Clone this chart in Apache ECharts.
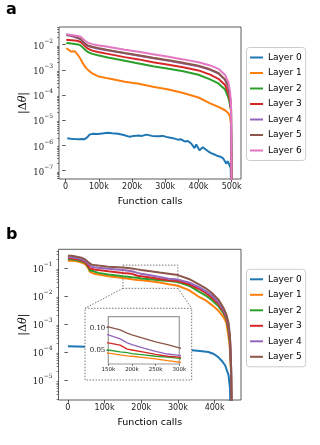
<!DOCTYPE html>
<html>
<head>
<meta charset="utf-8">
<script src="https://cdn.jsdelivr.net/npm/echarts@6/dist/echarts.min.js"></script>
<style>
html, body { margin: 0; padding: 0; background: #fff; }
#chart { width: 320px; height: 445px; }
</style>
</head>
<body>
<div id="chart"></div>
<script>
// colours of the layers (matplotlib tab10)
const layerColors = ['#1f77b4', '#ff7f0e', '#2ca02c', '#d62728', '#9467bd', '#8c564b', '#e377c2'];
const layersA = ['Layer 0', 'Layer 1', 'Layer 2', 'Layer 3', 'Layer 4', 'Layer 5', 'Layer 6'];
const layersB = ['Layer 0', 'Layer 1', 'Layer 2', 'Layer 3', 'Layer 4', 'Layer 5'];

// panel a: function calls (thousands)
const callsA = [2, 8, 17, 27, 37, 45, 52, 60, 67, 80, 97, 127, 178, 220, 263, 310, 354, 400, 435, 460, 480, 490, 495, 498, 500];
const a1 = [7.2e-3, 6.6e-3, 5.3e-3, 5.5e-3, 3.9e-3, 2.7e-3, 1.8e-3, 1.25e-3, 1.0e-3, 7.2e-4, 5.6e-4, 4.6e-4, 3.4e-4, 2.8e-4, 2.15e-4, 1.65e-4, 1.2e-4, 8.0e-5, 4.7e-5, 3.4e-5, 2.5e-5, 1.9e-5, 1.4e-5, 6.5e-6, 1e-9];
const a2 = [0.0116, 0.0113, 0.011, 0.0107, 0.0102, 0.0093, 0.0076, 0.006, 0.0051, 0.0043, 0.0038, 0.0031, 0.0023, 0.0018, 0.0014, 0.0011, 8.8e-4, 6.4e-4, 4.2e-4, 2.9e-4, 1.65e-4, 8e-5, 4e-5, 2.5e-5, 1e-9];
const a3 = [0.0158, 0.0155, 0.015, 0.0145, 0.014, 0.0128, 0.0105, 0.0082, 0.0069, 0.0058, 0.0051, 0.0043, 0.0032, 0.0026, 0.002, 0.0016, 0.00128, 9.5e-4, 6.5e-4, 4.4e-4, 2.5e-4, 1.2e-4, 5.5e-5, 2.5e-5, 1e-9];
const a4 = [0.0238, 0.0228, 0.0219, 0.02, 0.018, 0.0162, 0.0128, 0.01, 0.0088, 0.0078, 0.0069, 0.0059, 0.0045, 0.0036, 0.0029, 0.0023, 0.0018, 0.00138, 0.001, 7.1e-4, 4.0e-4, 2.0e-4, 8.5e-5, 2.8e-5, 1e-9];
const a5 = [0.025, 0.024, 0.023, 0.021, 0.019, 0.017, 0.0135, 0.0105, 0.0093, 0.0082, 0.0073, 0.0062, 0.0047, 0.0038, 0.003, 0.0024, 0.0019, 0.00145, 0.00105, 7.5e-4, 4.2e-4, 2.1e-4, 9e-5, 3e-5, 1e-9];
const a6 = [0.026, 0.025, 0.024, 0.023, 0.022, 0.0205, 0.017, 0.0135, 0.012, 0.0105, 0.0095, 0.0082, 0.0063, 0.0052, 0.0042, 0.0033, 0.0026, 0.002, 0.0015, 0.0011, 6.3e-4, 3.2e-4, 1.35e-4, 4e-5, 1e-9];
const calls0A = [5, 15, 27, 40, 50, 57, 65, 72, 82, 97, 110, 127, 140, 158, 175, 193, 205, 218, 230, 243, 260, 278, 293, 308, 323, 338, 348, 358, 368, 378, 383, 388, 393, 398, 403, 408, 413, 418, 428, 438, 448, 458, 466, 474, 480, 484, 488, 491, 494, 497, 500];
const a0 = [1.95e-6, 1.85e-6, 1.8e-6, 1.75e-6, 1.8e-6, 1.78e-6, 2.1e-6, 2.7e-6, 2.9e-6, 2.85e-6, 3.0e-6, 3.2e-6, 3.05e-6, 2.9e-6, 2.6e-6, 2.2e-6, 2.4e-6, 2.5e-6, 2.4e-6, 2.7e-6, 2.4e-6, 2.3e-6, 2.4e-6, 2.1e-6, 1.95e-6, 1.7e-6, 1.75e-6, 1.45e-6, 1.5e-6, 1.2e-6, 1.3e-6, 7.8e-7, 1.1e-6, 1.05e-6, 6.5e-7, 5.6e-7, 8.5e-7, 7.8e-7, 6.0e-7, 5.0e-7, 4.4e-7, 3.8e-7, 3.6e-7, 3.1e-7, 2.6e-7, 1.9e-7, 2.4e-7, 2.2e-7, 1.6e-7, 1.25e-7, 1e-9];

// panel b: function calls (thousands)
const callsB = [0, 10, 25, 37, 47, 55, 60, 65, 72, 83, 110, 150, 175, 190, 200, 225, 250, 275, 300, 330, 356, 375, 392, 410, 424, 432, 438, 442, 445, 447];
const b1 = [0.18, 0.18, 0.17, 0.155, 0.135, 0.1, 0.072, 0.062, 0.061, 0.058, 0.05, 0.043, 0.039, 0.037, 0.036, 0.033, 0.03, 0.026, 0.023, 0.016, 0.0095, 0.007, 0.0048, 0.003, 0.0018, 0.0011, 3.5e-4, 1.2e-4, 1.5e-5, 1e-7];
const b2 = [0.2, 0.2, 0.185, 0.17, 0.15, 0.11, 0.08, 0.07, 0.074, 0.066, 0.058, 0.05, 0.046, 0.044, 0.042, 0.039, 0.036, 0.034, 0.031, 0.023, 0.0145, 0.0105, 0.0072, 0.0044, 0.0024, 0.0015, 6e-4, 2e-4, 2e-5, 1e-7];
const b3 = [0.22, 0.22, 0.2, 0.185, 0.16, 0.12, 0.095, 0.088, 0.087, 0.083, 0.075, 0.066, 0.061, 0.052, 0.05, 0.045, 0.04, 0.036, 0.034, 0.026, 0.018, 0.013, 0.0088, 0.0052, 0.0028, 0.0017, 7.5e-4, 2.5e-4, 2.5e-5, 1e-7];
const b4 = [0.24, 0.24, 0.22, 0.2, 0.175, 0.14, 0.12, 0.11, 0.105, 0.1, 0.092, 0.084, 0.075, 0.066, 0.062, 0.054, 0.047, 0.041, 0.038, 0.03, 0.021, 0.015, 0.0105, 0.006, 0.0032, 0.0019, 9.5e-4, 3.2e-4, 3e-5, 1e-7];
const b5 = [0.27, 0.27, 0.25, 0.23, 0.2, 0.16, 0.14, 0.13, 0.125, 0.12, 0.11, 0.102, 0.095, 0.088, 0.084, 0.076, 0.068, 0.062, 0.055, 0.04, 0.026, 0.019, 0.013, 0.0075, 0.0038, 0.0022, 0.0011, 3.5e-4, 3e-5, 1e-7];
const calls0B = [0, 50, 100, 150, 200, 250, 300, 338, 360, 383, 398, 410, 420, 429, 438, 442, 444];
const b0 = [1.6e-4, 1.55e-4, 1.5e-4, 1.4e-4, 1.3e-4, 1.22e-4, 1.18e-4, 1.15e-4, 1.08e-4, 1.0e-4, 8.5e-5, 6.6e-5, 4.8e-5, 3.3e-5, 1.5e-5, 5e-6, 1e-7];

// tick labels
const ticksA = [0, 100000, 200000, 300000, 400000, 500000];
const ticksB = [0, 100000, 200000, 300000, 400000];
const decadesA = [1e-7, 1e-6, 1e-5, 1e-4, 1e-3, 1e-2];
const decadesB = [1e-5, 1e-4, 1e-3, 1e-2, 1e-1];
const ticksInsetX = [150000, 200000, 250000, 300000];
const ticksInsetY = [0.05, 0.10];

// axis ranges
const yRangeA = [Math.pow(10, -7.33), Math.pow(10, -1.3)];
const yRangeB = [Math.pow(10, -5.71), Math.pow(10, -0.34)];
const insetY = [0.0186, 0.1247];
const insetX = [150000, 300000];

const valuesA = [a0, a1, a2, a3, a4, a5, a6];
const valuesB = [b0, b1, b2, b3, b4, b5];

function pairs(calls, vals) {
    return calls.map((c, i) => [c * 1000, vals[i]]);
}

function minorTicks(range) {
    let out = [];
    for (let d = -9; d <= 1; d++) {
        for (let m = 2; m <= 9; m++) {
            let v = m * Math.pow(10, d);
            if (v > range[0] && v < range[1]) out.push(v);
        }
    }
    return out;
}

const kFormat = v => v === 0 ? '0' : (v / 1000) + 'k';
const powFormat = v => '{b|10}{s|−' + Math.round(-Math.log10(v)) + '}';
const powRich = {
    b: { fontFamily: 'DejaVu Serif', fontSize: 8.5, color: '#222', lineHeight: 13, verticalAlign: 'bottom' },
    s: { fontFamily: 'DejaVu Serif', fontSize: 6, color: '#222', lineHeight: 8, verticalAlign: 'top' }
};
const nameRich = {
    n: { fontFamily: 'DejaVu Serif', fontSize: 11, color: '#000' },
    i: { fontFamily: 'DejaVu Serif', fontSize: 11, fontStyle: 'italic', color: '#000' }
};

function mainX(gridIndex, range, ticks) {
    return {
        type: 'value', gridIndex, min: range[0], max: range[1],
        name: 'Function calls', nameLocation: 'middle', nameGap: 18,
        nameTextStyle: { fontFamily: 'DejaVu Sans', fontSize: 9.5, color: '#000' },
        axisLine: { show: false },
        splitLine: { show: false },
        axisTick: { customValues: ticks, length: 3.5, lineStyle: { color: '#333', width: 0.8 } },
        axisLabel: { customValues: ticks, formatter: kFormat, margin: 4, fontFamily: 'DejaVu Sans', fontSize: 8, color: '#222' }
    };
}

function mainY(gridIndex, range, decades) {
    return {
        type: 'log', gridIndex, min: range[0], max: range[1], position: 'left',
        name: '{n||Δ}{i|θ}{n||}', nameLocation: 'middle', nameGap: 30, nameMoveOverlap: false,
        nameTextStyle: { rich: nameRich },
        axisLine: { show: false },
        splitLine: { show: false },
        axisTick: { customValues: decades, length: 3.5, lineStyle: { color: '#333', width: 0.8 } },
        axisLabel: { customValues: decades, formatter: powFormat, rich: powRich, margin: 6 }
    };
}

function minorY(gridIndex, range) {
    return {
        type: 'log', gridIndex, min: range[0], max: range[1], position: 'left', offset: 0,
        axisLine: { show: false },
        splitLine: { show: false },
        axisLabel: { show: false },
        axisTick: { customValues: minorTicks(range), length: 2, lineStyle: { color: '#333', width: 0.6 } }
    };
}

let series = [];
valuesA.forEach((vals, i) => {
    series.push({
        name: layersA[i], type: 'line', xAxisIndex: 0, yAxisIndex: 0,
        data: pairs(i === 0 ? calls0A : callsA, vals),
        showSymbol: false, color: layerColors[i],
        lineStyle: { width: 2 }, emphasis: { disabled: true }
    });
});
valuesB.forEach((vals, i) => {
    let s = {
        name: layersB[i], type: 'line', xAxisIndex: 1, yAxisIndex: 1,
        data: pairs(i === 0 ? calls0B : callsB, vals),
        showSymbol: false, color: layerColors[i],
        lineStyle: { width: 2 }, emphasis: { disabled: true }
    };
    if (i === 0) {
        // dotted rectangle showing the zoomed region
        s.markArea = {
            silent: true,
            label: { show: false },
            itemStyle: { color: 'rgba(0,0,0,0)', borderColor: '#777', borderWidth: 1, borderType: [1.5, 1.5] },
            data: [[{ xAxis: insetX[0], yAxis: insetY[1] }, { xAxis: insetX[1], yAxis: insetY[0] }]]
        };
    }
    series.push(s);
});
// inset
valuesB.forEach((vals, i) => {
    if (i === 0) return;
    series.push({
        name: layersB[i], type: 'line', xAxisIndex: 2, yAxisIndex: 2, z: 12,
        data: pairs(callsB, vals),
        showSymbol: false, color: layerColors[i],
        lineStyle: { width: 1.3 }, emphasis: { disabled: true }
    });
});

const legendBase = {
    orient: 'vertical', left: 246.5, icon: 'rect', itemWidth: 13, itemHeight: 2,
    itemGap: 3.5, padding: [4, 4, 4, 3.5],
    backgroundColor: '#fff', borderColor: '#ccc', borderWidth: 1, borderRadius: 3,
    textStyle: { fontFamily: 'DejaVu Sans', fontSize: 9, color: '#000', lineHeight: 12 },
    selectedMode: false
};

const outerBox = { x: 85, y: 308.3, width: 106.7, height: 71.7 };

let chart = echarts.init(document.getElementById('chart'), null, { renderer: 'canvas' });
let option = {
    animation: false,
    backgroundColor: '#fff',
    title: [
        { text: 'a', left: 6, top: 2, padding: 0, textStyle: { fontFamily: 'DejaVu Sans', fontWeight: 'bold', fontSize: 16, color: '#000' } },
        { text: 'b', left: 6, top: 227, padding: 0, textStyle: { fontFamily: 'DejaVu Sans', fontWeight: 'bold', fontSize: 16, color: '#000' } }
    ],
    legend: [
        Object.assign({}, legendBase, { top: 47.5, data: layersA }),
        Object.assign({}, legendBase, { top: 269.3, data: layersB })
    ],
    grid: [
        { left: 59, top: 27, width: 182, height: 152, show: true, borderColor: '#333', borderWidth: 0.8, backgroundColor: 'rgba(0,0,0,0)' },
        { left: 58.5, top: 249.3, width: 182.5, height: 150.7, show: true, borderColor: '#333', borderWidth: 0.8, backgroundColor: 'rgba(0,0,0,0)' },
        { left: 108.3, top: 316.7, width: 71, height: 47.3, show: true, z: 11, borderColor: '#999', borderWidth: 1.2, backgroundColor: 'rgba(0,0,0,0)' }
    ],
    xAxis: [
        mainX(0, [-20000, 528000], ticksA),
        mainX(1, [-25600, 472000], ticksB),
        {
            type: 'value', gridIndex: 2, min: insetX[0], max: insetX[1], z: 11,
            axisLine: { show: false }, splitLine: { show: false },
            axisTick: { customValues: ticksInsetX, length: 2, lineStyle: { color: '#333', width: 0.6 } },
            axisLabel: { customValues: ticksInsetX, formatter: kFormat, margin: 2.5, fontFamily: 'DejaVu Sans', fontSize: 5.5, color: '#222' }
        }
    ],
    yAxis: [
        mainY(0, yRangeA, decadesA),
        mainY(1, yRangeB, decadesB),
        {
            type: 'value', gridIndex: 2, min: insetY[0], max: insetY[1], z: 11,
            axisLine: { show: false }, splitLine: { show: false },
            axisTick: { customValues: ticksInsetY, length: 2, lineStyle: { color: '#333', width: 0.6 } },
            axisLabel: { customValues: ticksInsetY, formatter: v => v.toFixed(2), margin: 3, fontFamily: 'DejaVu Serif', fontSize: 7, color: '#222' }
        },
        minorY(0, yRangeA),
        minorY(1, yRangeB)
    ],
    series: series
};
chart.setOption(option);

// white dotted box behind the inset, and the two connector lines
const pLeft = chart.convertToPixel({ xAxisIndex: 1, yAxisIndex: 1 }, [insetX[0], insetY[0]]);
const pRight = chart.convertToPixel({ xAxisIndex: 1, yAxisIndex: 1 }, [insetX[1], insetY[0]]);
const dotted = { stroke: '#777', lineWidth: 1, lineDash: [1.5, 1.5], fill: null };
chart.setOption({
    graphic: {
        elements: [
            { type: 'rect', z: 10, shape: outerBox, style: Object.assign({}, dotted, { fill: '#fff' }) },
            { type: 'line', z: 10, shape: { x1: pLeft[0], y1: pLeft[1], x2: outerBox.x, y2: outerBox.y }, style: dotted },
            { type: 'line', z: 10, shape: { x1: pRight[0], y1: pRight[1], x2: outerBox.x + outerBox.width, y2: outerBox.y }, style: dotted }
        ]
    }
});
</script>
</body>
</html>
